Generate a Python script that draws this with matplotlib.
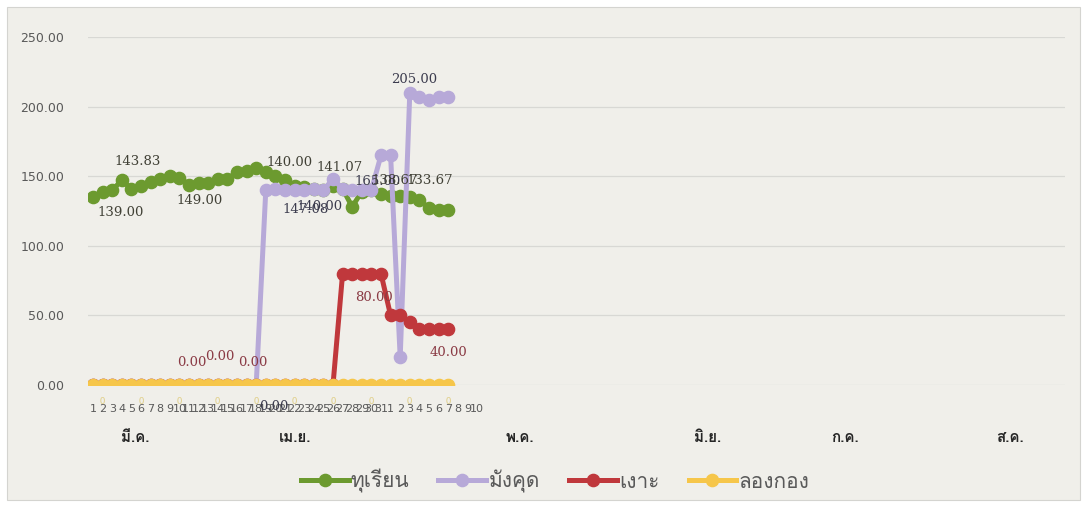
import matplotlib
matplotlib.use("Agg")
import matplotlib.pyplot as plt
import matplotlib.transforms as mtransforms
from matplotlib import font_manager
from matplotlib.ft2font import FT2Font
from matplotlib.patches import Rectangle
from matplotlib.lines import Line2D

# ---------------- data ----------------
march_days = [1, 2, 3, 4, 5, 6, 7, 8, 9, 10, 11, 12, 13, 14, 15, 16, 17, 18, 19, 20,
              21, 22, 23, 24, 25, 26, 27, 28, 29, 30, 31]
april_days = [1, 2, 3, 4, 5, 6, 7, 8, 9, 10]
day_labels = [str(d) for d in march_days + april_days]

months = ["มี.ค.", "เม.ย.", "พ.ค.", "มิ.ย.", "ก.ค.", "ส.ค."]

series_names = ["ทุเรียน", "มังคุด", "เงาะ", "ลองกอง"]

durian = [135, 139, 140, 147, 141, 143, 146, 148, 150, 149, 144, 145, 145, 148, 148,
          153, 154, 156, 153, 150, 147, 143, 142, 141, 140, 143, 141, 128, 139, 140,
          137, 136, 136, 135, 133, 127, 126, 126]
mangosteen = [0, 0, 0, 0, 0, 0, 0, 0, 0, 0, 0, 0, 0, 0, 0, 0, 0, 0,
              140, 141, 140, 140, 140, 141, 140, 148, 141, 140, 140, 140,
              165, 165, 20, 210, 207, 205, 207, 207]
rambutan = [0, 0, 0, 0, 0, 0, 0, 0, 0, 0, 0, 0, 0, 0, 0, 0, 0, 0, 0, 0, 0, 0, 0, 0, 0, 0,
            80, 80, 80, 80, 80, 50, 50, 45, 40, 40, 40, 40]
longkong = [0, 0, 0, 0, 0, 0, 0, 0, 0, 0, 0, 0, 0, 0, 0, 0, 0, 0, 0, 0,
            0, 0, 0, 0, 0, 0, 0, 0, 0, 0, 0, 0, 0, 0, 0, 0, 0, 0]

# data labels as shown in the picture: (series index, point index, text)
label_series = [0, 0, 0, 0, 1, 1, 0, 1, 0, 0, 1, 2, 2, 2, 2, 2, 1]
label_points = [2, 3, 11, 21, 22, 24, 26, 30, 31, 34, 33, 29, 37, 10, 13, 17, 17]
label_texts = ["139.00", "143.83", "149.00", "140.00", "147.08", "140.00", "141.07",
               "165.00", "138.67", "133.67", "205.00", "80.00", "40.00",
               "0.00", "0.00", "0.00", "0.00"]
yellow_zero_points = [1, 5, 9, 13, 17, 21, 25, 29, 33, 37]

# ---------------- layout / style ----------------
label_offsets = [(8, -22), (16, 19), (1, -17), (-5, 23), (1, -19), (-4, -16), (-3, 21),
                 (-3, -26), (4, 15), (10, 19), (4, 13), (3, -24), (0, -23),
                 (3, 23), (2, 29), (-3, 23), (18, -22)]
month_pos = [4.4, 21.0, 44.5, 64.0, 78.3, 95.5]
colors = ["#6c9a2f", "#b7a9d8", "#c0383c", "#f6c64a"]
label_colors = ["#404035", "#3c3c4e", "#8a3a44", "#e0cf8a"]

def find_thai_font():
    for fe in font_manager.fontManager.ttflist:
        try:
            f = FT2Font(fe.fname)
            if f.get_char_index(ord('ท')) and f.get_char_index(ord('ี')):
                return fe.name
        except Exception:
            pass
    return None

thai = find_thai_font()
fam = ([thai] if thai else []) + ["DejaVu Sans"]
plt.rcParams['font.family'] = fam

W, H = 1087, 508
fig = plt.figure(figsize=(W / 100, H / 100), dpi=100, facecolor="white")
fig.patches.append(Rectangle((7 / W, 1 - 500 / H), (1080 - 7) / W, (500 - 7) / H,
                             transform=fig.transFigure, facecolor="#f0efea",
                             edgecolor="#d4d4d0", linewidth=0.8, zorder=-10))

ax = fig.add_axes([88 / W, (H - 385) / H, (1065 - 88) / W, (385 - 37) / H])
ax.set_facecolor("none")
ax.patch.set_alpha(0)

LW, MS = 3.6, 8.8
all_series = [durian, mangosteen, rambutan, longkong]
x = list(range(len(durian)))
for s, (vals, c, name) in enumerate(zip(all_series, colors, series_names)):
    ax.plot(x, vals, color=c, lw=LW, marker="o", ms=MS, mec=c, mfc=c,
            solid_joinstyle="round", solid_capstyle="round", zorder=3 + s, label=name)

ax.set_ylim(0, 250)
ax.set_xlim(-0.52, 101.25)
ax.set_yticks([0, 50, 100, 150, 200, 250])
ax.set_yticklabels(["%.2f" % v for v in [0, 50, 100, 150, 200, 250]],
                   fontsize=9, color="#595959", family="DejaVu Sans")
ax.yaxis.grid(True, color="#d8d8d4", lw=0.9)
ax.set_axisbelow(True)
for sp in ax.spines.values():
    sp.set_visible(False)
ax.tick_params(axis="y", length=0, pad=17)
ax.set_xticks(range(len(day_labels)))
ax.set_xticklabels(day_labels, fontsize=8, color="#595959", family="DejaVu Sans")
ax.tick_params(axis="x", length=0, pad=14)

# data labels
for s, p, t, (dx, dy) in zip(label_series, label_points, label_texts, label_offsets):
    ax.annotate(t, (p, all_series[s][p]), xytext=(dx, dy), textcoords="offset pixels",
                ha="center", va="center", fontsize=9.5, color=label_colors[s],
                family="DejaVu Serif", zorder=10)
for p in yellow_zero_points:
    ax.annotate("0", (p, longkong[p]), xytext=(0, -16), textcoords="offset pixels",
                ha="center", va="center", fontsize=7, color=label_colors[3], zorder=2)

# month labels
trans = mtransforms.blended_transform_factory(ax.transData, ax.transAxes)
for m, pos in zip(months, month_pos):
    ax.text(pos, -0.152, m, transform=trans, ha="center", va="center",
            fontsize=11, fontweight="bold", color="#262626")

handles = [Line2D([], [], color=c, lw=LW, marker="o", ms=MS) for c in colors]
leg = fig.legend(handles, series_names, loc="center", bbox_to_anchor=(555 / W, 1 - 481 / H),
                 ncol=4, frameon=False, fontsize=15, handlelength=2.3,
                 columnspacing=1.4, handletextpad=0.1, labelcolor="#595959")

fig.savefig("out.png", dpi=100, facecolor="white")
